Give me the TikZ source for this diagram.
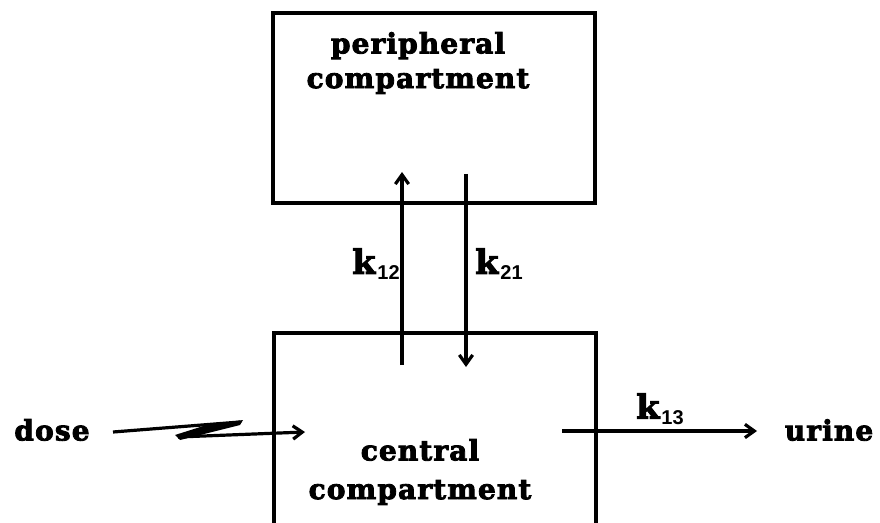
\documentclass[tikz,border=0pt]{standalone}
\usepackage{fontspec}
\usetikzlibrary{arrows.meta}
\newfontfamily\lblfont[LetterSpace=4, BoldFeatures={FakeBold=3}]{DejaVu Serif}
\newfontfamily\subfont{Liberation Sans}
\newcommand{\rate}[1]{{\lblfont\bfseries\fontsize{25}{28}\selectfont k}\kern1.5pt{\subfont\bfseries\fontsize{15}{17}\selectfont\raisebox{-0.55ex}{#1}}}
\begin{document}
\begin{tikzpicture}[x=0.75pt,y=-0.75pt,
  compbox/.style={draw, line width=3pt, inner sep=0pt, minimum width=241.5pt},
  lbl/.style={font=\lblfont\bfseries\fontsize{21}{26}\selectfont, align=center, inner sep=0pt},
  ratelbl/.style={inner sep=0pt},
  flow/.style={line width=2.4pt, -{Straight Barb[length=7pt,width=10pt,line width=2.4pt]}}]
\useasboundingbox (0,0) rectangle (880,523);
\clip (0,0) rectangle (880,523);
% boxes
\node[compbox, minimum height=142.5pt] (periph) at (434,108) {};
\node[compbox, minimum height=159pt] (central) at (435,439) {};
% box texts
\node[lbl] (ptext) at (418,63) {peripheral\\compartment};
\node[lbl, font=\lblfont\bfseries\fontsize{21}{29}\selectfont] (ctext) at (420,472) {central\\compartment};
% exchange arrows
\coordinate (upS) at (402,365);
\coordinate (upE) at (402,172);
\coordinate (dnS) at (466,174);
\coordinate (dnE) at (466,367);
\draw[flow] (upS) -- (upE);
\draw[flow] (dnS) -- (dnE);
\node[ratelbl] (k12) at (376,264) {\rate{12}};
\node[ratelbl] (k21) at (499,264) {\rate{21}};
% dose
\node[lbl] (dose) at (52,430) {dose};
\coordinate (z1) at (113,432);
\coordinate (z2) at (240,422);
\coordinate (z3) at (178,437);
\coordinate (doseE) at (305,432);
\fill (205,425.5) -- (243,420) -- (240,425) -- (180,440) -- (175,435) -- cycle;
\draw[line width=2.4pt, line join=round] (z1) -- (z2) -- (z3);
\draw[flow] (z3) -- (doseE);
% urine
\coordinate (elimS) at (562,431);
\node[lbl] (urine) at (829,430) {urine};
\draw[flow] (elimS) -- (757,431) coordinate (elimE);
\node[ratelbl] (k13) at (660,409) {\rate{13}};
\end{tikzpicture}
\end{document}
